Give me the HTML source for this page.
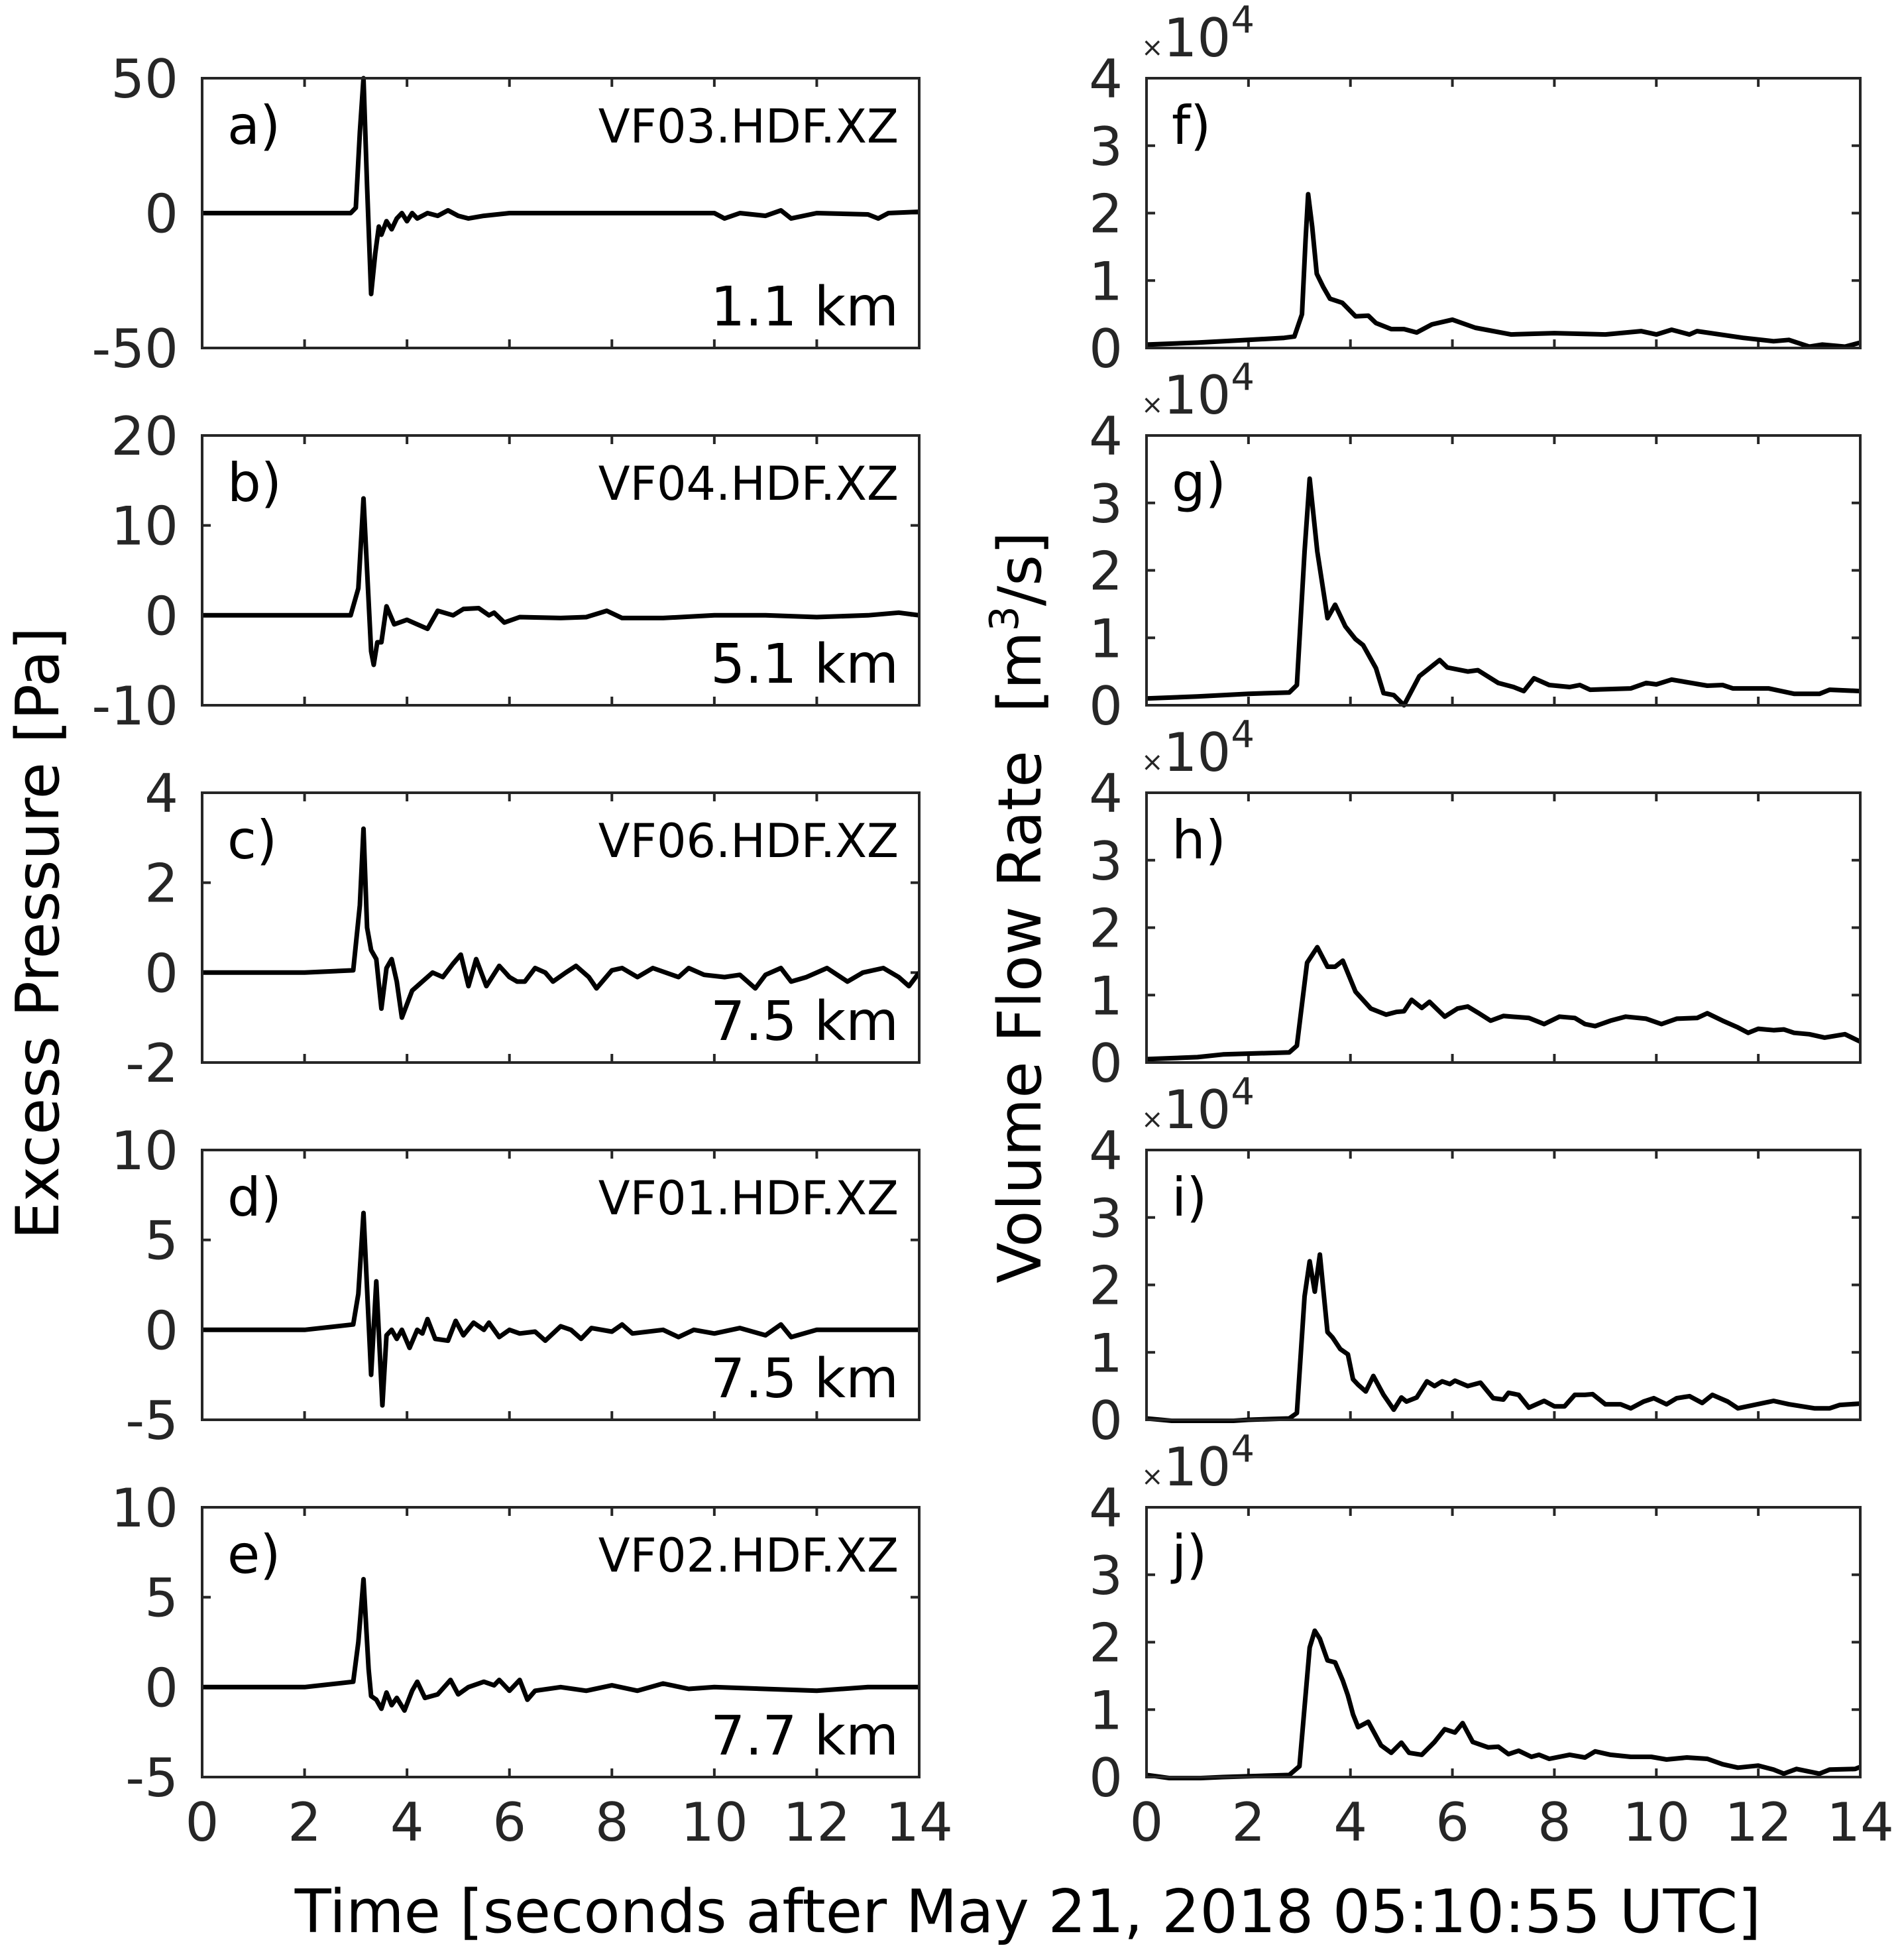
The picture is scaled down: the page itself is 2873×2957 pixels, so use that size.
<!DOCTYPE html>
<html><head><meta charset="utf-8"><style>
html,body{margin:0;padding:0;background:#fff}
svg{display:block}
text{font-family:"DejaVu Sans","Liberation Sans",sans-serif;fill:#262626}
</style></head><body>
<svg id="fig" xmlns="http://www.w3.org/2000/svg" width="2873" height="2957" viewBox="0 0 2873 2957">
<rect width="2873" height="2957" fill="#fff"/>
<text transform="translate(88,1408) rotate(-90)" text-anchor="middle" font-size="90" style="fill:#000">Excess Pressure [Pa]</text>
<text transform="translate(1570,1369) rotate(-90)" text-anchor="middle" font-size="90" style="fill:#000">Volume Flow Rate &#160;[m<tspan font-size="60" dy="-34">3</tspan><tspan dy="34">/s]</tspan></text>
<text x="1551" y="2915" text-anchor="middle" font-size="90" style="fill:#000">Time [seconds after May 21, 2018 05:10:55 UTC]</text>
<g id="panels"></g>
</svg>
<script>
// ---- data (time in s, values in panel units) ----
const xTicks = [0,2,4,6,8,10,12,14];
const aT = [0,1,2,2.9,3.0,3.08,3.15,3.22,3.3,3.38,3.45,3.5,3.6,3.7,3.8,3.9,4.0,4.1,4.2,4.4,4.6,4.8,5.0,5.2,5.5,6,7,8,9,10,10.2,10.5,11,11.3,11.5,12,13,13.2,13.4,14];
const aV = [0,0,0,0,2,30,50,10,-30,-15,-5,-8,-3,-6,-2,0,-3,0,-2,0,-1,1,-1,-2,-1,0,0,0,0,0,-2,0,-1,1,-2,0,-0.5,-2,0,0.5];
const bT = [0,2,2.9,3.05,3.15,3.22,3.3,3.35,3.42,3.5,3.6,3.75,4,4.2,4.4,4.6,4.9,5.1,5.4,5.6,5.7,5.9,6.2,7,7.5,7.9,8.2,9,10,11,12,13,13.6,14];
const bV = [0,0,0,3,13,5,-4,-5.5,-3,-3,1,-1,-0.5,-1,-1.5,0.5,0,0.7,0.8,0,0.3,-0.8,-0.2,-0.3,-0.2,0.5,-0.3,-0.3,0,0,-0.2,0,0.3,0];
const cT = [0,2,2.95,3.08,3.15,3.22,3.3,3.4,3.5,3.6,3.7,3.8,3.9,4.1,4.3,4.5,4.7,4.9,5.05,5.2,5.35,5.55,5.8,6.0,6.15,6.3,6.5,6.7,6.85,7.1,7.3,7.55,7.7,8.0,8.2,8.5,8.8,9.3,9.5,9.8,10.2,10.5,10.8,11.0,11.3,11.5,11.8,12.2,12.6,12.9,13.3,13.6,13.8,14];
const cV = [0,0,0.05,1.5,3.2,1,0.5,0.3,-0.8,0.1,0.3,-0.2,-1.0,-0.4,-0.2,0,-0.1,0.2,0.4,-0.3,0.3,-0.3,0.15,-0.1,-0.2,-0.2,0.1,0,-0.2,0,0.15,-0.1,-0.35,0.05,0.1,-0.1,0.1,-0.1,0.1,-0.05,-0.1,-0.05,-0.35,-0.05,0.1,-0.2,-0.1,0.1,-0.2,0,0.1,-0.1,-0.3,0];
const dT = [0,2,2.95,3.05,3.15,3.3,3.4,3.52,3.6,3.7,3.8,3.9,4.05,4.2,4.3,4.4,4.55,4.8,4.95,5.1,5.3,5.5,5.6,5.8,6.0,6.2,6.5,6.7,7.0,7.2,7.4,7.6,8.0,8.2,8.4,9.0,9.3,9.6,10,10.5,11,11.3,11.5,12,13,14];
const dV = [0,0,0.3,2,6.5,-2.5,2.7,-4.2,-0.3,0,-0.5,0,-1,0,-0.2,0.6,-0.5,-0.6,0.5,-0.3,0.4,0,0.4,-0.4,0,-0.2,-0.1,-0.6,0.2,0,-0.5,0.1,-0.1,0.3,-0.2,0,-0.4,0,-0.2,0.1,-0.3,0.3,-0.4,0,0,0];
const eT = [0,2,2.95,3.05,3.15,3.25,3.3,3.4,3.5,3.6,3.7,3.8,3.95,4.1,4.2,4.35,4.6,4.85,5.0,5.2,5.5,5.7,5.8,6.0,6.2,6.35,6.5,7,7.5,8,8.5,9,9.5,10,12,13,14];
const eV = [0,0,0.3,2.5,6,1,-0.5,-0.7,-1.2,-0.3,-1,-0.6,-1.3,-0.2,0.3,-0.6,-0.4,0.4,-0.4,0,0.3,0.1,0.4,-0.2,0.4,-0.7,-0.2,0,-0.2,0.1,-0.2,0.2,-0.1,0,-0.2,0,0];
const fT = [0,1,2,2.7,2.9,3.05,3.12,3.17,3.25,3.34,3.47,3.6,3.84,4.1,4.35,4.5,4.8,5.05,5.3,5.6,6,6.45,7.15,8,9,9.7,10,10.3,10.65,10.8,11.7,12.3,12.6,13,13.25,13.7,14];
const fV = [0.05,0.08,0.12,0.15,0.17,0.5,1.6,2.28,1.8,1.1,0.9,0.73,0.67,0.47,0.48,0.37,0.28,0.28,0.23,0.35,0.42,0.3,0.2,0.22,0.2,0.25,0.2,0.27,0.2,0.25,0.15,0.1,0.12,0.02,0.05,0.02,0.08];
const gT = [0,1,2,2.8,2.95,3.1,3.2,3.35,3.5,3.55,3.7,3.9,4.1,4.25,4.5,4.65,4.85,5.05,5.35,5.5,5.75,5.9,6.3,6.5,6.9,7.2,7.4,7.6,7.9,8.3,8.5,8.7,9.5,9.8,10.0,10.3,11,11.3,11.5,12.2,12.7,13.2,13.4,14];
const gV = [0.1,0.13,0.17,0.19,0.3,2.28,3.36,2.28,1.54,1.29,1.49,1.17,0.98,0.89,0.55,0.18,0.15,0,0.43,0.52,0.67,0.56,0.5,0.52,0.33,0.27,0.21,0.4,0.3,0.27,0.3,0.23,0.25,0.33,0.31,0.38,0.29,0.3,0.25,0.25,0.17,0.17,0.23,0.21];
const hT = [0,1,1.5,2.8,2.95,3.15,3.35,3.55,3.7,3.85,4.1,4.4,4.7,4.9,5.05,5.2,5.4,5.55,5.85,6.1,6.3,6.5,6.75,7.0,7.5,7.8,8.1,8.4,8.6,8.8,9.1,9.4,9.8,10.1,10.4,10.8,11,11.3,11.6,11.8,12.0,12.3,12.5,12.7,13,13.3,13.7,14];
const hV = [0.05,0.08,0.12,0.15,0.25,1.48,1.71,1.42,1.42,1.51,1.05,0.8,0.71,0.75,0.76,0.93,0.81,0.9,0.68,0.8,0.83,0.74,0.62,0.69,0.66,0.57,0.68,0.66,0.57,0.54,0.62,0.68,0.65,0.57,0.65,0.66,0.73,0.62,0.52,0.44,0.5,0.48,0.49,0.44,0.42,0.37,0.42,0.31];
const iT = [0,1,2,2.8,2.95,3.1,3.2,3.3,3.4,3.55,3.65,3.8,3.95,4.05,4.15,4.3,4.45,4.65,4.85,5.0,5.1,5.3,5.5,5.65,5.8,5.95,6.05,6.3,6.55,6.8,7.0,7.1,7.3,7.5,7.8,8.0,8.2,8.4,8.6,8.75,9.0,9.3,9.5,9.75,9.95,10.2,10.4,10.65,10.9,11.1,11.4,11.6,12.3,12.6,13.1,13.4,13.6,14];
const iV = [0.02,-0.05,0,0.02,0.1,1.83,2.35,1.9,2.45,1.3,1.22,1.05,0.97,0.6,0.52,0.42,0.65,0.37,0.15,0.33,0.27,0.33,0.57,0.5,0.57,0.53,0.58,0.5,0.55,0.32,0.3,0.4,0.37,0.18,0.28,0.2,0.2,0.37,0.37,0.38,0.23,0.23,0.17,0.27,0.32,0.23,0.32,0.35,0.25,0.37,0.27,0.17,0.28,0.23,0.17,0.17,0.22,0.24];
const jT = [0,0.6,1.5,2.8,3.0,3.2,3.3,3.4,3.55,3.7,3.85,3.95,4.05,4.15,4.35,4.6,4.8,5.0,5.15,5.4,5.65,5.85,6.05,6.2,6.4,6.7,6.9,7.1,7.3,7.55,7.7,7.9,8.3,8.6,8.8,9.1,9.5,9.9,10.2,10.6,11.0,11.3,11.6,12.0,12.3,12.5,12.75,13.2,13.4,13.9,14];
const jV = [0.03,-0.03,0,0.03,0.16,1.92,2.17,2.05,1.73,1.7,1.43,1.21,0.93,0.74,0.82,0.47,0.36,0.51,0.36,0.33,0.52,0.71,0.66,0.8,0.52,0.44,0.45,0.34,0.39,0.3,0.33,0.27,0.33,0.29,0.38,0.33,0.3,0.3,0.26,0.29,0.27,0.19,0.14,0.17,0.11,0.05,0.12,0.05,0.11,0.12,0.15];

const leftYTicks = [[-50,0,50],[-10,0,10,20],[-2,0,2,4],[-5,0,5,10],[-5,0,5,10]];
const leftYRange = [[-50,50],[-10,20],[-2,4],[-5,10],[-5,10]];
const rightYTicks = [0,1,2,3,4];
const leftLetters = ['a)','b)','c)','d)','e)'];
const rightLetters = ['f)','g)','h)','i)','j)'];
const stations = ['VF03.HDF.XZ','VF04.HDF.XZ','VF06.HDF.XZ','VF01.HDF.XZ','VF02.HDF.XZ'];
const distances = ['1.1 km','5.1 km','7.5 km','7.5 km','7.7 km'];
const leftSeries = [[aT,aV],[bT,bV],[cT,cV],[dT,dV],[eT,eV]];
const rightSeries = [[fT,fV],[gT,gV],[hT,hV],[iT,iV],[jT,jV]];

const NS = 'http://www.w3.org/2000/svg';
const root = document.getElementById('panels');
function mk(tag, attrs, parent){
  const e = document.createElementNS(NS, tag);
  for (const k in attrs) e.setAttribute(k, attrs[k]);
  (parent||root).appendChild(e);
  return e;
}
const PH = 407, TICK = 13;
function drawPanel(k, x0, x1, yr, yTicks, series, letter, side){
  const top = 118 + k*539, bot = top + PH;
  const xs = t => x0 + (t/14)*(x1-x0);
  const ys = v => bot - (v-yr[0])/(yr[1]-yr[0])*PH;
  const g = mk('g', {});
  
  
  const cid = 'clip' + side + k;
  const cp = mk('clipPath', {id: cid}, g);
  mk('rect', {x: x0, y: top-5, width: x1-x0, height: PH+10}, cp);
  xTicks.forEach(t => {
    if (t===0 || t===14) return;
    const x = xs(t);
    const l1 = mk('line', {x1:x, x2:x, y1:bot, y2:bot-TICK, stroke:'#262626','stroke-width':4}, g);
    
    
    mk('line', {x1:x, x2:x, y1:top, y2:top+TICK, stroke:'#262626','stroke-width':4}, g);
  });
  yTicks.forEach(v => {
    const y = ys(v);
    const l = mk('line', {x1:x0, x2:x0+TICK, y1:y, y2:y, stroke:'#262626','stroke-width':4}, g);
    
    
    mk('line', {x1:x1, x2:x1-TICK, y1:y, y2:y, stroke:'#262626','stroke-width':4}, g);
    const tx = mk('text', {x: x0-36, y: y+29, 'text-anchor':'end', 'font-size':80}, g);
    
    
    tx.textContent = String(v);
  });
  const [T, V] = series;
  const pts = T.map((t,i) => xs(t).toFixed(1) + ',' + ys(V[i]).toFixed(1)).join(' ');
  const pl = mk('polyline', {points: pts, fill:'none', stroke:'#000', 'stroke-width':7, 'stroke-linejoin':'round', 'clip-path':'url(#'+cid+')'}, g);
  
  
  const fr = mk('rect', {x:x0, y:top, width:x1-x0, height:PH, fill:'none', stroke:'#262626', 'stroke-width':4}, g);
  
  
  const lt = mk('text', {x: x0+38, y: top+99, 'font-size':80, style:'fill:#000'}, g);
  
  
  lt.textContent = letter;
  if (k === 4) {
    xTicks.forEach(t => {
      const tx = mk('text', {x: xs(t), y: 2777, 'text-anchor':'middle', 'font-size':80}, g);
      
      
      tx.textContent = String(t);
    });
  }
  return {top, bot};
}
for (let k=0;k<5;k++){
  const L = drawPanel(k, 305, 1387, leftYRange[k], leftYTicks[k], leftSeries[k], leftLetters[k], 'left');
  const st = mk('text', {x: 1356, y: L.top+97, 'text-anchor':'end', 'font-size':70, style:'fill:#000'});
  
  
  st.textContent = stations[k];
  const ds = mk('text', {x: 1356, y: L.bot-34, 'text-anchor':'end', 'font-size':82, style:'fill:#000'});
  
  
  ds.textContent = distances[k];
  const R = drawPanel(k, 1730, 2807, [0,4], rightYTicks, rightSeries[k], rightLetters[k], 'right');
  const ex = mk('text', {x: 1722, y: R.top-33, 'font-size':80});
  
  
  const s1 = mk('tspan', {'font-size':40}, ex); s1.textContent = '×';
  const s2 = mk('tspan', {}, ex); s2.textContent = '10';
  const s3 = mk('tspan', {'font-size':56, dy:-36}, ex); s3.textContent = '4';
}
</script>
</body></html>
